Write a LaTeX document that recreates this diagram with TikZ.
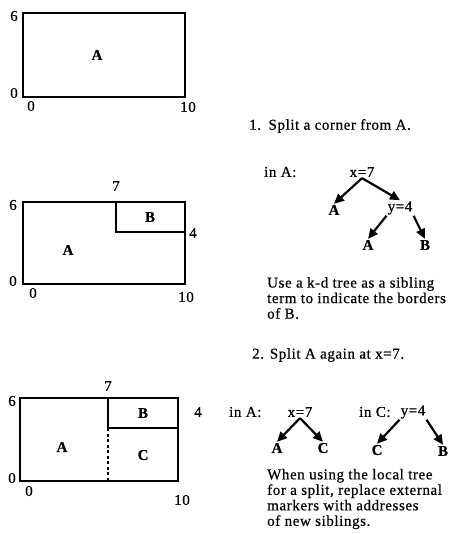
\documentclass[tikz,border=0pt]{standalone}
\usepackage{fontspec}
\setmainfont[LetterSpace=4,FakeBold=0.6]{Liberation Serif}
\usetikzlibrary{arrows.meta,positioning}

\begin{document}
\begin{tikzpicture}[x=1pt,y=-1pt,
  every node/.style={font=\fontsize{15}{15.5}\selectfont,inner sep=1pt},
  region/.style={line width=1.3pt},
  cut/.style={line width=2pt},
  lab/.style={font=\fontsize{15}{15.5}\selectfont\bfseries},
  kdarrow/.style={-{Triangle[length=10pt,width=9pt]},line width=2.2pt},
  note/.style={anchor=west,align=left}]
  \useasboundingbox (0,0) rectangle (454,534);

  % starting region
  \draw[region] (23,13) rectangle (185,97);
  \node[lab] (r0a) at (97,55) {A};
  \node (r0y6) at (14,16) {6};
  \node (r0y0) at (14,93) {0};
  \node (r0x0) at (31,106) {0};
  \node (r0x10) at (188,107) {10};

  % step 1: corner B split from A
  \draw[region] (23,202) rectangle (185,284);
  \draw[cut] (185,232) -- (116,232) -- (116,202);
  \node[lab] (r1a) at (68,250) {A};
  \node[lab] (r1b) at (150,217) {B};
  \node (r1x7) at (116,186) {7};
  \node (r1y6) at (13,205) {6};
  \node (r1y4) at (193,233) {4};
  \node (r1y0) at (13,281) {0};
  \node (r1x0) at (33,293) {0};
  \node (r1x10) at (186,297) {10};

  % step 2: A split again at x=7
  \draw[region] (20,398) rectangle (178,481);
  \draw[cut] (108,428) -- (108,398);
  \draw[cut] (108,428) -- (178,428);
  \draw[line width=2.2pt,dash pattern=on 3pt off 2.5pt] (108,428) -- (108,481);
  \node[lab] (r2a) at (62,447) {A};
  \node[lab] (r2b) at (143,413) {B};
  \node[lab] (r2c) at (143,455) {C};
  \node (r2x7) at (108,386) {7};
  \node (r2y6) at (12,401) {6};
  \node (r2y4) at (198,412) {4};
  \node (r2y0) at (12,478) {0};
  \node (r2x0) at (29,491) {0};
  \node (r2x10) at (182,500) {10};

  % kd tree for step 1
  \node[note] (s1) at (248,126) {1.\enspace Split a corner from A.};
  \node[note] (in1) at (263,172) {in A:};
  \node (x7) at (362,172) {x=7};
  \node[lab] (a1) at (334,210) {A};
  \node (y4) at (400,208) {y=4};
  \node[lab] (a2) at (368,245) {A};
  \node[lab] (b1) at (425,245) {B};
  \draw[kdarrow] (x7.south) -- (a1.north);
  \draw[kdarrow] (x7.south) -- (y4.north);
  \draw[kdarrow] (y4.south west) -- (a2.north);
  \draw[kdarrow] (y4.south east) -- (b1.north);
  \node[note] (n1) at (266,298) {Use a k-d tree as a sibling\\term to indicate the borders\\of B.};

  % kd trees for step 2
  \node[note] (s2) at (251,355) {2. Split A again at x=7.};
  \node[note] (in2) at (228,412) {in A:};
  \node (x72) at (300,412) {x=7};
  \node[lab] (a3) at (277,448) {A};
  \node[lab] (c1) at (323,448) {C};
  \node[note] (in3) at (358,412) {in C:};
  \node (y42) at (413,412) {y=4};
  \node[lab] (c2) at (377,450) {C};
  \node[lab] (b2) at (443,451) {B};
  \draw[kdarrow] (x72.south) -- (a3.north);
  \draw[kdarrow] (x72.south) -- (c1.north);
  \draw[kdarrow] (y42.south west) -- (c2.north);
  \draw[kdarrow] (y42.south east) -- (b2.north);
  \node[note] (n2) at (266,499) {When using the local tree\\for a split, replace external\\markers with addresses\\of new siblings.};
\end{tikzpicture}
\end{document}
